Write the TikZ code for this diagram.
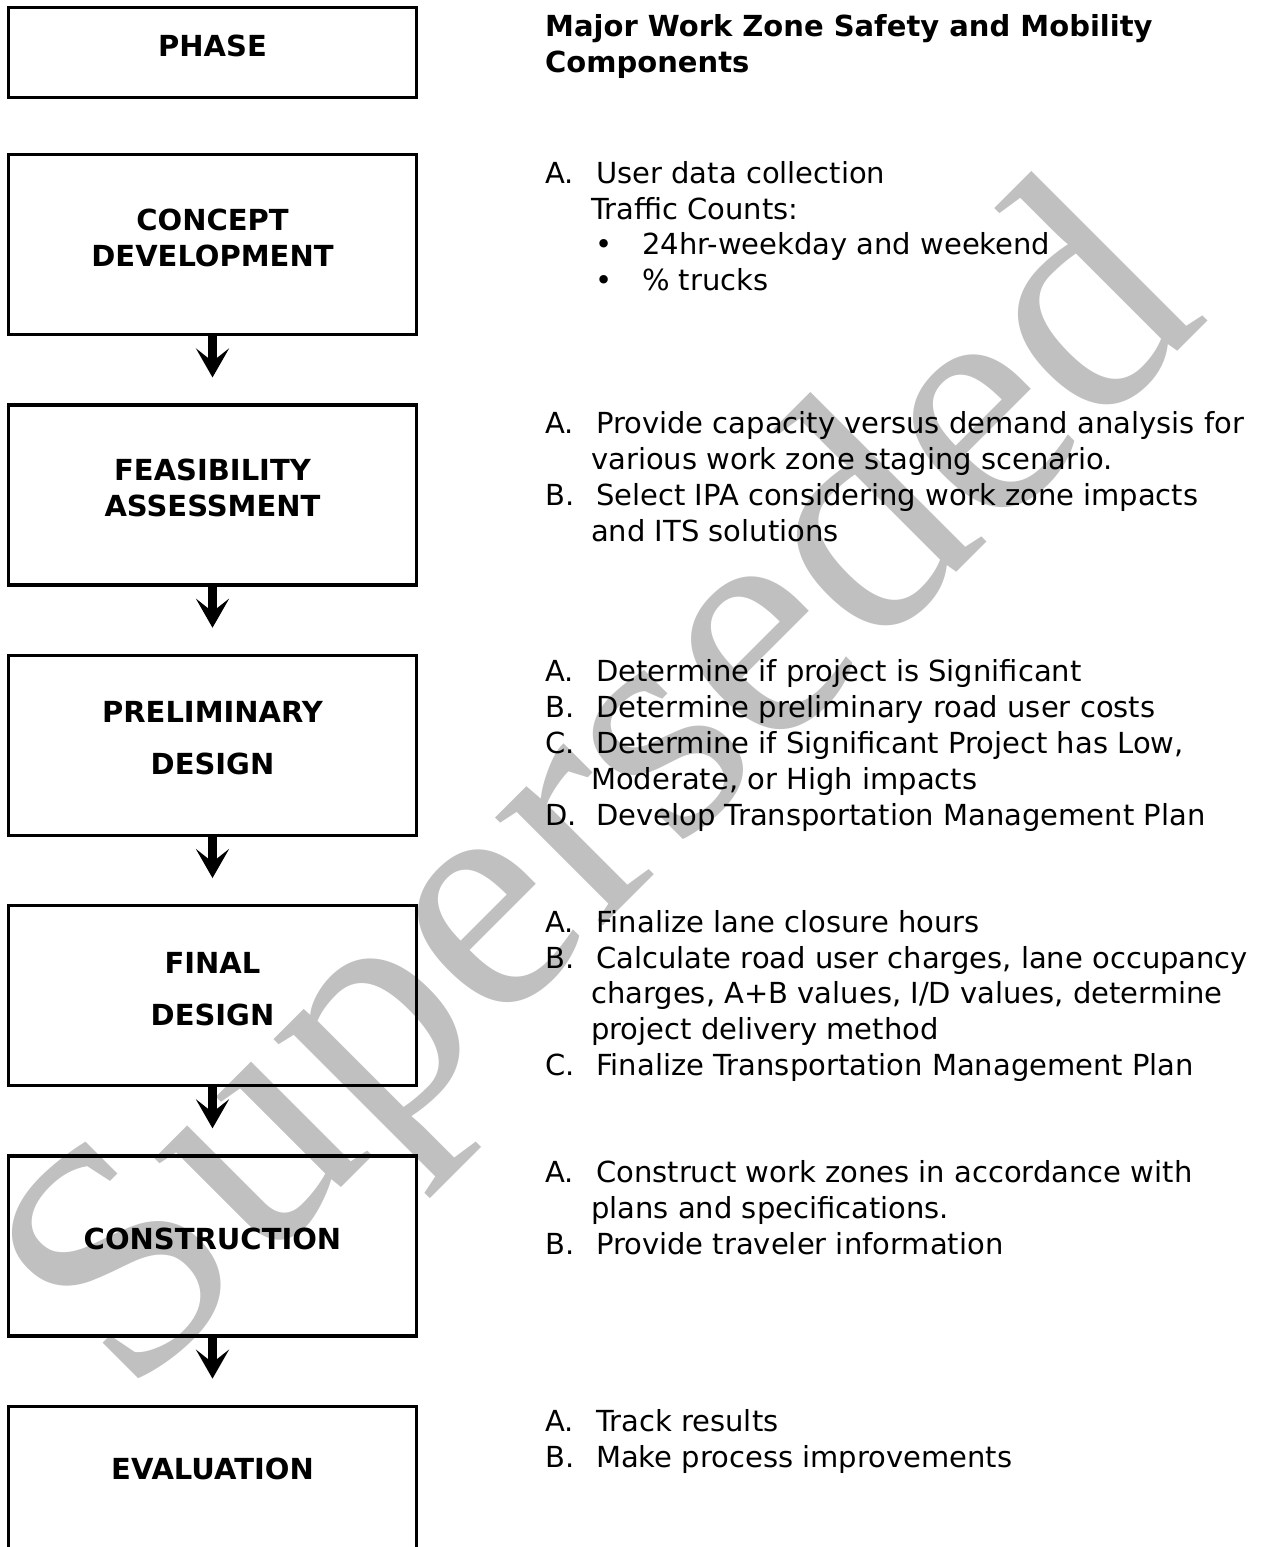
\documentclass[tikz,border=0pt]{standalone}
\usepackage{fontspec}
\setmainfont{DejaVu Sans}
\newfontfamily\wmfont{Liberation Serif}
\usepackage{xcolor}
\usepackage{tikz}
\usetikzlibrary{positioning, arrows.meta}
\definecolor{wmgray}{RGB}{192,192,192}
\newcommand\itm[2]{\strut\makebox[51pt][l]{#1}#2}
\newcommand\cont[1]{\strut\hspace*{46pt}#1}
\newcommand\bul[1]{\strut\hspace*{50pt}\makebox[47pt][l]{\textbullet}#1}

\begin{document}
\begin{tikzpicture}[
  x=1pt, y=1pt,
  phasebox/.style={draw, line width=3.3pt, minimum width=408pt, minimum height=180pt},
  phaselbl/.style={font=\bfseries\fontsize{29}{35.5}\selectfont, align=center, inner sep=0pt},
  items/.style={font=\fontsize{29}{35.8}\selectfont, align=left, inner sep=0pt, anchor=north west},
  headtext/.style={items, font=\bfseries\fontsize{29}{36}\selectfont},
  flowarrow/.style={line width=9pt, -{Stealth[length=29pt, width=33pt, inset=13pt]}}
]
\useasboundingbox (0,0) rectangle (1268,-1547);
\clip (0,0) rectangle (1268,-1547);
\node[rotate=45, anchor=base, text=wmgray, inner sep=0pt,
  font=\wmfont\fontsize{332}{332}\selectfont] (wm) at (670,-859) {Superseded};

\node[phasebox, minimum height=90pt] (phase) at (212.5,-52.5) {};
\node[phasebox, below=54pt of phase] (concept) {};
\node[phasebox, below=67pt of concept] (feas) {};
\node[phasebox, below=67pt of feas] (prelim) {};
\node[phasebox, below=67pt of prelim] (final) {};
\node[phasebox, below=67pt of final] (constr) {};
\node[phasebox, minimum height=144pt, below=67pt of constr] (eval) {};

\node[phaselbl] (phaselbl) at ([yshift=7pt]phase.center) {PHASE};
\node[phaselbl] (conceptlbl) at ([yshift=7pt]concept.center) {CONCEPT\\DEVELOPMENT};
\node[phaselbl] (feaslbl) at ([yshift=7pt]feas.center) {FEASIBILITY\\ASSESSMENT};
\node[phaselbl] (prelimlbl) at ([yshift=7pt]prelim.center) {PRELIMINARY\\[16.5pt]DESIGN};
\node[phaselbl] (finallbl) at ([yshift=7pt]final.center) {FINAL\\[16.5pt]DESIGN};
\node[phaselbl] (constrlbl) at ([yshift=7pt]constr.center) {CONSTRUCTION};
\node[phaselbl] (evallbl) at ([yshift=9pt]eval.center) {EVALUATION};

\draw[flowarrow] (concept.south) -- ([yshift=26pt]feas.north);
\draw[flowarrow] (feas.south) -- ([yshift=26pt]prelim.north);
\draw[flowarrow] (prelim.south) -- ([yshift=26pt]final.north);
\draw[flowarrow] (final.south) -- ([yshift=26pt]constr.north);
\draw[flowarrow] (constr.south) -- ([yshift=26pt]eval.north);

\coordinate (col) at (545,0);
\node[headtext] (head) at ([yshift=-4.8pt]phase.north -| col)
  {\strut Major Work Zone Safety and Mobility\\Components};
\node[items] (conceptitems) at ([yshift=-4.9pt]concept.north -| col) {%
  \itm{A.}{User data collection}\\
  \cont{Traffic Counts:}\\
  \bul{24hr-weekday and weekend}\\
  \bul{\% trucks}};
\node[items] (feasitems) at ([yshift=-4.9pt]feas.north -| col) {%
  \itm{A.}{Provide capacity versus demand analysis for}\\
  \cont{various work zone staging scenario.}\\
  \itm{B.}{Select IPA considering work zone impacts}\\
  \cont{and ITS solutions}};
\node[items] (prelimitems) at ([yshift=-2.9pt]prelim.north -| col) {%
  \itm{A.}{Determine if project is Significant}\\
  \itm{B.}{Determine preliminary road user costs}\\
  \itm{C.}{Determine if Significant Project has Low,}\\
  \cont{Moderate, or High impacts}\\
  \itm{D.}{Develop Transportation Management Plan}};
\node[items] (finalitems) at ([yshift=-2.9pt]final.north -| col) {%
  \itm{A.}{Finalize lane closure hours}\\
  \itm{B.}{Calculate road user charges, lane occupancy}\\
  \cont{charges, A+B values, I/D values, determine}\\
  \cont{project delivery method}\\
  \itm{C.}{Finalize Transportation Management Plan}};
\node[items] (constritems) at ([yshift=-2.9pt]constr.north -| col) {%
  \itm{A.}{Construct work zones in accordance with}\\
  \cont{plans and specifications.}\\
  \itm{B.}{Provide traveler information}};
\node[items] (evalitems) at ([yshift=-1.9pt]eval.north -| col) {%
  \itm{A.}{Track results}\\
  \itm{B.}{Make process improvements}};
\end{tikzpicture}
\end{document}
